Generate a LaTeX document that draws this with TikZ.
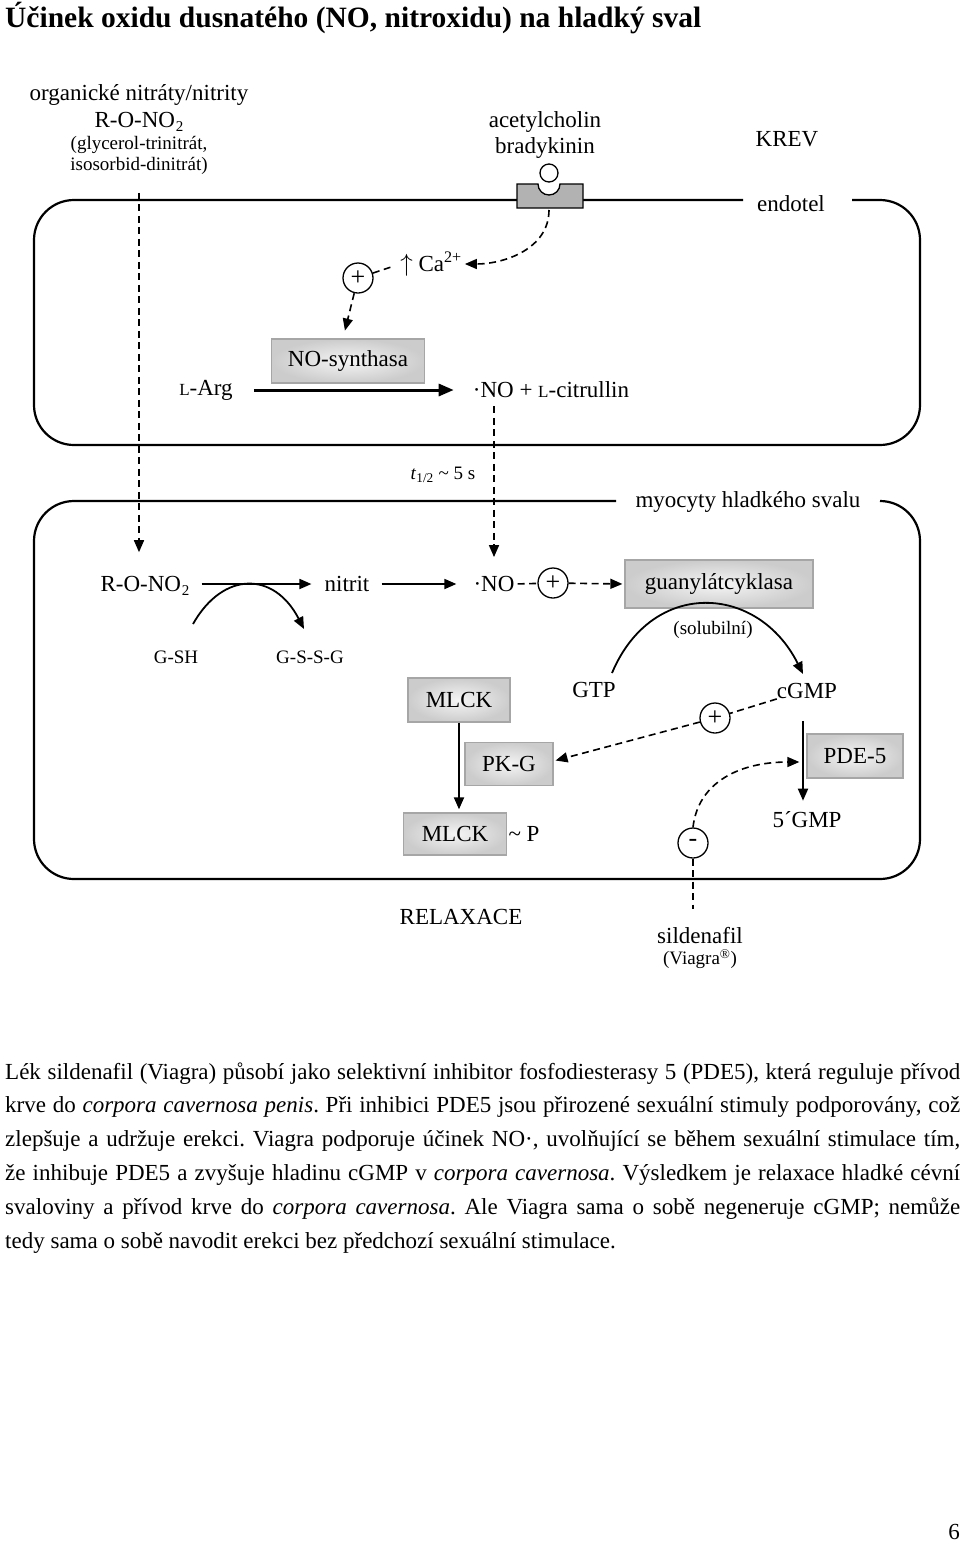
\documentclass[tikz,border=0pt]{standalone}
\usepackage{fontspec}
\setmainfont{Liberation Serif}
\usetikzlibrary{arrows.meta,positioning}
\frenchspacing

\newcommand{\malel}{{\fontsize{17}{17}\selectfont L}}
\newcommand{\dvojka}{\kern1pt\raisebox{-4pt}{\fontsize{15}{15}\selectfont 2}}

\tikzset{
  popis/.style={inner sep=0pt, font=\fontsize{23}{27}\selectfont},
  maly/.style={inner sep=0pt, font=\fontsize{19}{22}\selectfont},
  enzym/.style={popis, draw=black!35, line width=1.3pt, inner color=black!4, outer color=black!20, minimum height=44pt},
  kruh/.style={circle, draw, line width=1.3pt, minimum size=30pt, inner sep=0pt, font=\fontsize{26}{26}\selectfont},
  sipka/.style={line width=1.8pt, -{Triangle[length=12pt,width=10pt]}},
  carka/.style={line width=1.6pt, dash pattern=on 7pt off 4.5pt},
  carsip/.style={carka, -{Triangle[length=12pt,width=10pt]}},
  bunka/.style={line width=2.2pt},
  radek/.style={inner sep=0pt, anchor=base west, font=\fontsize{23}{27}\selectfont},
}

\begin{document}
\begin{tikzpicture}[x=1pt,y=1pt]
\useasboundingbox (0,0) rectangle (960,-1543);

\node[anchor=base west, inner sep=0pt, font=\bfseries\fontsize{29.5}{32}\selectfont] (titul) at (5,-27) {Účinek oxidu dusnatého (NO, nitroxidu) na hladký sval};

\node[popis] (org1) at (139,-95) {organické nitráty/nitrity};
\node[popis] (org2) at (139,-122) {R-O-NO\dvojka};
\node[maly]  (org3) at (139,-145) {(glycerol-trinitrát,};
\node[maly]  (org4) at (139,-166) {isosorbid-dinitrát)};
\node[popis] (ach) at (545,-122) {acetylcholin};
\node[popis] (brad) at (545,-148) {bradykinin};
\node[popis] (krev) at (787,-139) {KREV};
\node[popis] (endo) at (791,-204) {endotel};

\draw[bunka, rounded corners=40pt] (743,-200) -- (34,-200) -- (34,-445) -- (920,-445) -- (920,-200) -- (852,-200);
\draw[line width=1.3pt, fill=black!30] (517,-184) -- (538,-184) arc (180:360:11) -- (583,-184) -- (583,-208) -- (517,-208) -- cycle;
\coordinate (rec) at (549,-210);
\node[circle, draw, line width=1.3pt, minimum size=18pt, inner sep=0pt] (lig) at (549,-173) {};

\node[popis] (ca) at (431,-264) {$\uparrow$ Ca\textsuperscript{2+}};
\node[kruh] (plus1) at (358,-278) {+};
\node[enzym, minimum width=153pt] (nos) at (348,-361) {NO-synthasa};
\node[popis] (larg) at (206,-390) {\malel-Arg};
\node[popis] (nocit) at (551,-390) {·NO + \malel-citrullin};

\draw[carsip] (rec) to[out=-90,in=0] ([xshift=3pt]ca.east);
\draw[carka, shorten >=6pt] (plus1) -- (ca.west);
\draw[carsip, shorten >=8pt] (plus1) -- ([xshift=-5pt]nos.north);
\draw[sipka, line width=3pt, -{Triangle[length=15pt,width=12pt]}, shorten <=21pt, shorten >=19pt] (larg.east |- nocit.west) -- (nocit.west);

\node[maly] (thalf) at (443,-475) {\textit{t}\textsubscript{1/2} \textasciitilde{} 5 s};
\node[popis] (myo) at (748,-502) {myocyty hladkého svalu};
\draw[bunka, rounded corners=40pt] (616,-501) -- (34,-501) -- (34,-879) -- (920,-879) -- (920,-501) -- (880,-501);

\node[popis] (rono) at (145,-586) {R-O-NO\dvojka};
\node[popis] (nitrit) at (347,-584) {nitrit};
\node[popis] (nomyo) at (494,-584) {·NO};
\node[kruh] (plus2) at (553,-583) {+};
\node[enzym, minimum width=188pt, minimum height=48pt] (gc) at (719,-584) {guanylátcyklasa};
\node[maly] (gsh) at (176,-657) {G-SH};
\node[maly] (gssg) at (310,-657) {G-S-S-G};
\node[maly] (sol) at (713,-630) {(solubilní)};
\node[popis] (gtp) at (594,-690) {GTP};
\node[popis] (cgmp) at (807,-691) {cGMP};
\node[enzym, minimum width=102pt] (mlck1) at (459,-700) {MLCK};
\node[enzym, minimum width=88pt, minimum height=43pt] (pkg) at (509,-764) {PK-G};
\node[kruh] (plus3) at (715,-718) {+};
\node[enzym, minimum width=96pt] (pde) at (855,-756) {PDE-5};
\node[enzym, minimum width=103pt, minimum height=42pt] (mlck2) at (455,-834) {MLCK};
\node[popis] (tildep) at (524,-834) {\textasciitilde{} P};
\node[popis] (gmp5) at (807,-820) {5´GMP};
\node[kruh] (minus) at (693,-843) {-};
\node[popis] (relax) at (461,-917) {RELAXACE};
\node[popis] (silden) at (700,-936) {sildenafil};
\node[maly] (viagra) at (700,-959) {(Viagra\textsuperscript{®})};

\draw[carsip, shorten <=18pt, shorten >=24pt] (org4.south) -- (org4.south |- rono.north);
\draw[carsip, shorten <=8pt, shorten >=19pt] (nocit.south -| nomyo.north) -- (nomyo.north);
\draw[sipka, shorten <=12pt, shorten >=13pt] (rono.east |- nitrit.west) -- (nitrit.west);
\draw[sipka, shorten <=12pt, shorten >=17pt] (nitrit.east) -- (nomyo.west);
\draw[carka, shorten <=3pt] (nomyo.east) -- (plus2);
\draw[carsip, shorten >=2pt] (plus2) -- (gc.west);
\draw[sipka] ([shift={(17,33)}]gsh.center) .. controls +(30,53) and +(-30,58) .. ([shift={(-6,28)}]gssg.center);
\draw[sipka] ([shift={(18,17)}]gtp.center) .. controls +(40,95) and +(-45,90) .. ([shift={(-4,17)}]cgmp.center);
\draw[carka] (cgmp.south west) -- (plus3);
\draw[carsip, shorten >=2pt] (plus3) -- ([yshift=3pt]pkg.east);
\draw[sipka, shorten >=3pt] (mlck1.south) -- (mlck1.south |- mlck2.north);
\draw[sipka, shorten <=22pt, shorten >=11pt] ([xshift=-4pt]cgmp.south) -- ([xshift=-4pt]gmp5.north);
\draw[carsip] (minus.north) .. controls +(5,45) and +(-60,0) .. ([shift={(-7,-6)}]pde.west);
\draw[carka, shorten >=19pt] (minus.south) -- (minus.south |- silden.north);

\node[radek] (r1) at (5,-1079) {\makebox[955pt][s]{Lék sildenafil (Viagra) působí jako selektivní inhibitor fosfodiesterasy 5 (PDE5), která reguluje přívod}};
\node[radek] (r2) at (5,-1112.8) {\makebox[955pt][s]{krve do \textit{corpora cavernosa penis}. Při inhibici PDE5 jsou přirozené sexuální stimuly podporovány, což}};
\node[radek] (r3) at (5,-1146.6) {\makebox[955pt][s]{zlepšuje a udržuje erekci. Viagra podporuje účinek NO·, uvolňující se během sexuální stimulace tím,}};
\node[radek] (r4) at (5,-1180.4) {\makebox[955pt][s]{že inhibuje PDE5 a zvyšuje hladinu cGMP v \textit{corpora cavernosa}. Výsledkem je relaxace hladké cévní}};
\node[radek] (r5) at (5,-1214.2) {\makebox[955pt][s]{svaloviny a přívod krve do \textit{corpora cavernosa}. Ale Viagra sama o sobě negeneruje cGMP; nemůže}};
\node[radek] (r6) at (5,-1248) {tedy sama o sobě navodit erekci bez předchozí sexuální stimulace.};

\node[popis] (strana) at (954,-1532) {6};
\end{tikzpicture}
\end{document}
